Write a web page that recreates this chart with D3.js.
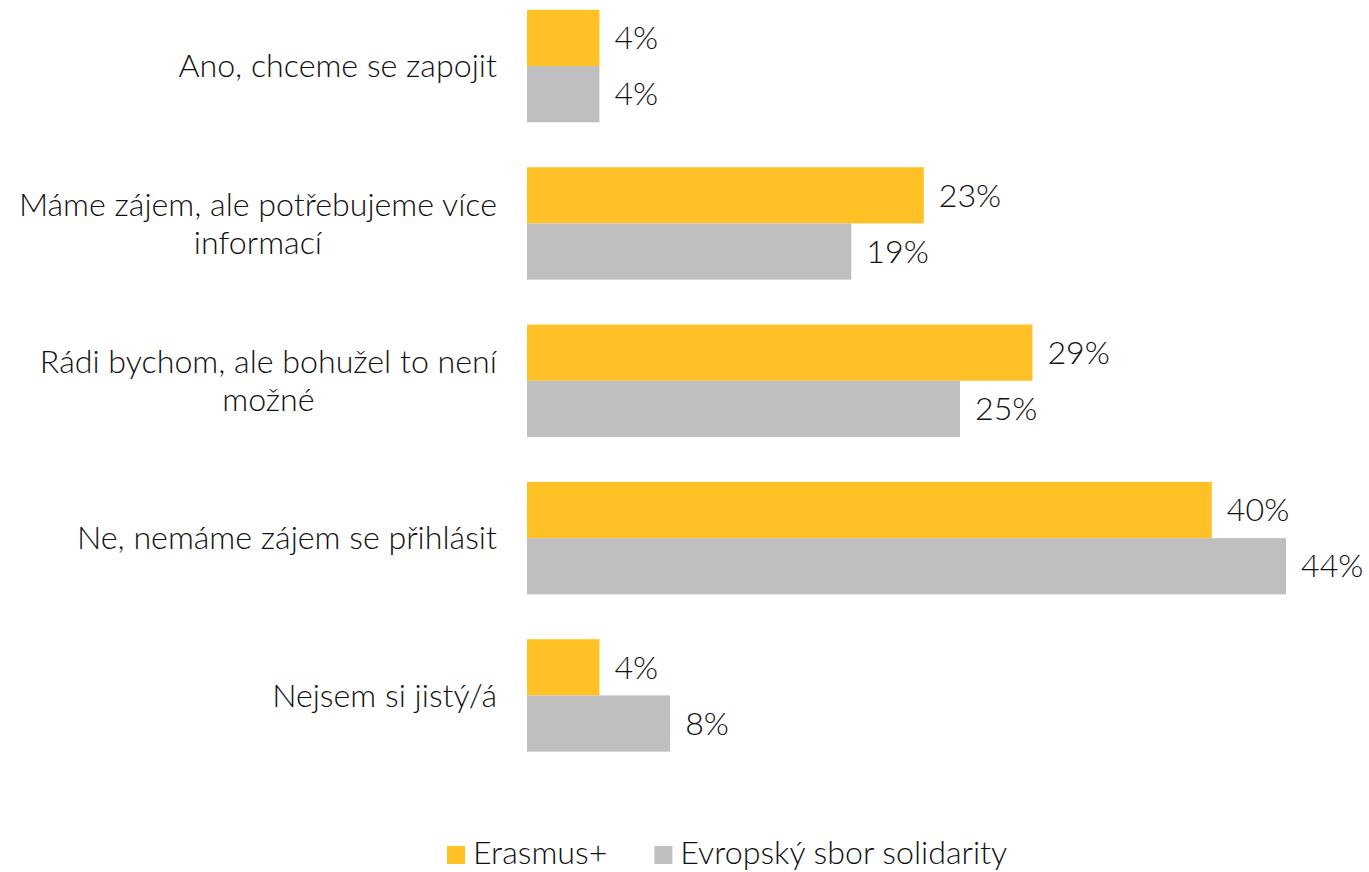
<!DOCTYPE html>
<html>
<head>
<meta charset="utf-8">
<script src="https://cdn.jsdelivr.net/npm/d3@7"></script>
<style>
  body { margin: 0; background: #fff; }
  svg text { font-family: Lato, "Open Sans", sans-serif; font-weight: 300; fill: #111; }
</style>
</head>
<body>
<svg width="1369" height="872"></svg>
<script>
// categories (each entry is one label, split into lines)
var categories = [
  ["Ano, chceme se zapojit"],
  ["Máme zájem, ale potřebujeme více", "informací"],
  ["Rádi bychom, ale bohužel to není", "možné"],
  ["Ne, nemáme zájem se přihlásit"],
  ["Nejsem si jistý/á"]
];
var seriesNames = ["Erasmus+", "Evropský sbor solidarity"];
var erasmus = [4.2, 23.0, 29.3, 39.7, 4.2];
var esc = [4.2, 18.8, 25.1, 44.0, 8.3];
var colors = ["#FFC125", "#BFBFBF"];

var rows = categories.map(function(c, i) {
  return {key: i, lines: c, values: [erasmus[i], esc[i]]};
});

var svg = d3.select("svg");
var left = 527;
var fs = 32.2;
var fmt = function(v) { return Math.round(v) + "%"; };

var x = d3.scaleLinear().domain([0, 44]).range([left, left + 759]);
var y = d3.scaleBand()
    .domain(rows.map(function(d) { return d.key; }))
    .range([2, 759.5])
    .paddingInner(0.2855)
    .paddingOuter(0.05);
var y1 = d3.scaleBand().domain([0, 1]).range([0, y.bandwidth()]);

var groups = svg.selectAll(".grp")
  .data(rows)
  .enter().append("g")
    .attr("class", "grp")
    .attr("transform", function(d) { return "translate(0," + y(d.key) + ")"; });

groups.selectAll("rect")
  .data(function(d) { return d.values.map(function(v, j) { return {v: v, s: j}; }); })
  .enter().append("rect")
    .attr("x", x(0))
    .attr("y", function(d) { return y1(d.s); })
    .attr("width", function(d) { return x(d.v) - x(0); })
    .attr("height", y1.bandwidth())
    .attr("fill", function(d) { return colors[d.s]; });

groups.selectAll(".val")
  .data(function(d) { return d.values.map(function(v, j) { return {v: v, s: j}; }); })
  .enter().append("text")
    .attr("class", "val")
    .attr("x", function(d) { return x(d.v) + 15; })
    .attr("y", function(d) { return y1(d.s) + y1.bandwidth() / 2; })
    .attr("dy", "0.35em")
    .attr("font-size", fs)
    .text(function(d) { return fmt(d.v); });

// category labels: block right-aligned, lines centred within block
var lineH = 38;
groups.each(function(d) {
  var g = d3.select(this);
  var lab = g.append("text").attr("font-size", fs).attr("text-anchor", "middle");
  var n = d.lines.length;
  var spans = d.lines.map(function(l, k) {
    return lab.append("tspan")
      .attr("y", y.bandwidth() / 2 + (k - (n - 1) / 2) * lineH)
      .attr("dy", "0.35em")
      .text(l);
  });
  var w = d3.max(spans, function(s) { return s.node().getComputedTextLength(); });
  spans.forEach(function(s) { s.attr("x", 497 - w / 2); });
});

// legend
var legend = svg.append("g");
var lx = 447;
seriesNames.forEach(function(name, i) {
  var item = legend.append("g").attr("transform", "translate(" + lx + ",846)");
  item.append("rect").attr("width", 18).attr("height", 18).attr("fill", colors[i]);
  var t = item.append("text").attr("x", 26).attr("y", 18)
    .attr("font-size", fs).text(name);
  lx += 26 + t.node().getComputedTextLength() + 47;
});
</script>
</body>
</html>
